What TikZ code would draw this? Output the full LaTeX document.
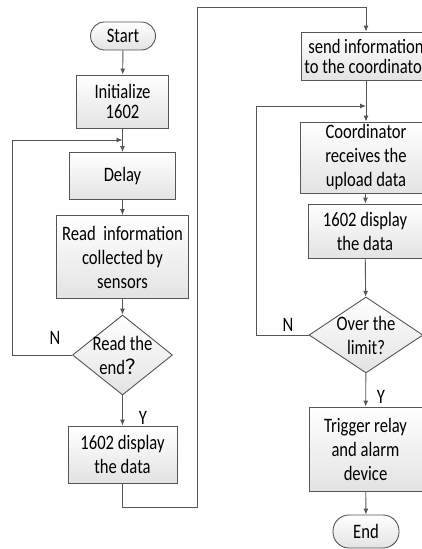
\documentclass[tikz,border=0pt]{standalone}
\usepackage{fontspec}
\setmainfont{Carlito}[FakeStretch=0.81]
\newfontfamily\cjk{Noto Sans CJK SC}
\usetikzlibrary{shapes.geometric,arrows.meta}

\begin{document}
\begin{tikzpicture}[x=1pt,y=-1pt,
	box/.style={draw=linegray, line width=0.9pt, top color=white, bottom color=gray!22,
		align=center, inner sep=2pt, font=\fontsize{20.5}{24}\selectfont},
	tight/.style={font=\fontsize{20.5}{20}\selectfont},
	term/.style={box, rounded corners=14pt},
	decision/.style={box, diamond, inner sep=0pt},
	lab/.style={font=\fontsize{20.5}{24}\selectfont, align=center},
	line/.style={draw=linegray, line width=0.9pt},
	arrow/.style={line, -{Latex[length=6pt,width=5pt]}}]
\definecolor{linegray}{RGB}{85,85,85}
	\useasboundingbox (0,0) rectangle (422,549);
	\clip (0,0) rectangle (422,549);

	% left column
	\node[term, minimum width=65, minimum height=28] (start) at (123,36) {Start};
	\node[box, tight, minimum width=92, minimum height=53] (init) at (122.5,101.5) {Initialize\\1602};
	\node[box, minimum width=106, minimum height=47] (delay) at (122.5,176) {Delay};
	\node[box, minimum width=132, minimum height=83] (read) at (122.5,257) {Read\ \ information\\collected by\\sensors};
	\node[decision, minimum width=100, minimum height=80,
		label={[lab]center:Read the\\end{\cjk ？}}] (dec1) at (122.5,355) {};
	\node[box, minimum width=109, minimum height=57] (disp1) at (122.5,454.5) {1602 display\\the data};

	% right column
	\node[box, tight, inner xsep=0pt, minimum width=130, minimum height=48] (send) at (366,56) {send information\\to the coordinator};
	\node[box, minimum width=132, minimum height=71] (coord) at (366,157.5) {Coordinator\\receives the\\upload data};
	\node[box, minimum width=114, minimum height=54] (disp2) at (365,231) {1602 display\\the data};
	\node[decision, minimum width=114, minimum height=76,
		label={[lab]center:Over the\\limit?}] (dec2) at (366,335) {};
	\node[box, minimum width=113, minimum height=84] (trig) at (365.5,449) {Trigger relay\\and alarm\\device};
	\node[term, minimum width=66, minimum height=33, rounded corners=16pt] (end) at (366,531.5) {End};

	\coordinate (loop1) at (12,140);
	\coordinate (merge1) at (122.5,140);
	\coordinate (bend1) at (197,507);
	\coordinate (topturn) at (366,7);
	\coordinate (loop2) at (256,106);
	\coordinate (merge2) at (366,106);

	\draw[arrow] (start) -- (init);
	\draw[arrow] (init) -- (delay);
	\draw[arrow] (delay) -- (read);
	\draw[arrow] (read) -- (dec1);
	\draw[arrow] (dec1) -- (disp1);
	\draw[arrow] (dec1.west) -| (loop1) -- (merge1);
	\draw[arrow] (disp1) |- (bend1) |- (topturn) -- (send);

	\draw[arrow] (send) -- (coord);
	\draw[arrow] (coord) -- (disp2);
	\draw[arrow] (disp2) -- (dec2);
	\draw[arrow] (dec2) -- (trig);
	\draw[arrow] (trig) -- (end);
	\draw[arrow] (dec2.west) -| (loop2) -- (merge2);

	\node[lab] (n1) at (55,338) {N};
	\node[lab] (y1) at (143,418) {Y};
	\node[lab] (n2) at (288,325) {N};
	\node[lab] (y2) at (381,397) {Y};
\end{tikzpicture}
\end{document}
